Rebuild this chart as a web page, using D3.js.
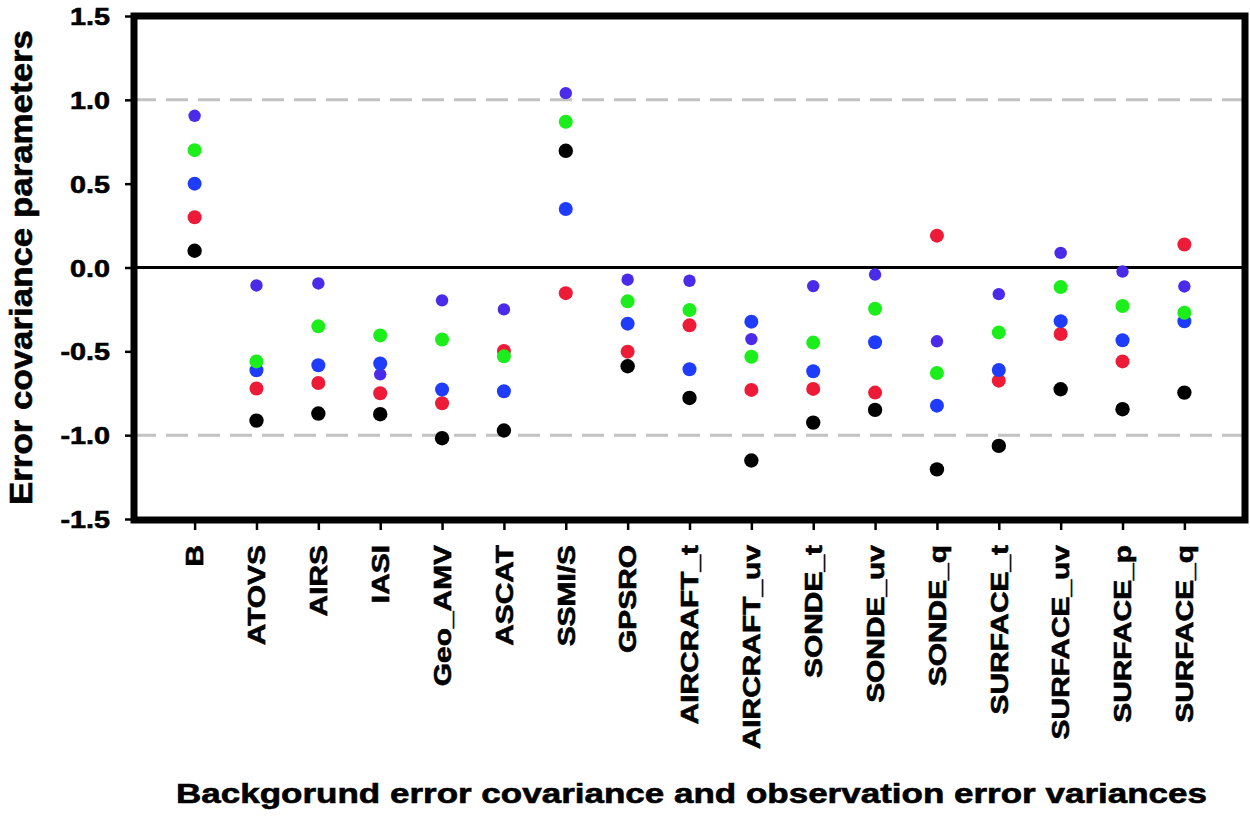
<!DOCTYPE html>
<html>
<head>
<meta charset="utf-8">
<script src="https://cdn.jsdelivr.net/npm/d3@7"></script>
<style>
  html, body { margin: 0; padding: 0; background: #fff; }
  svg { display: block; }
  text { font-family: "Liberation Sans", Arial, Helvetica, sans-serif; font-weight: bold; fill: #000; stroke: #000; stroke-width: 0.6px; }
</style>
</head>
<body>
<svg id="chart" width="1250" height="816"></svg>
<script>
// ---------- data ----------
const categories = ["B","ATOVS","AIRS","IASI","Geo_AMV","ASCAT","SSMI/S","GPSRO","AIRCRAFT_t","AIRCRAFT_uv","SONDE_t","SONDE_uv","SONDE_q","SURFACE_t","SURFACE_uv","SURFACE_p","SURFACE_q"];

const seriesPurple = [0.905, -0.107, -0.095, -0.637, -0.196, -0.25, 1.04, -0.073, -0.079, -0.427, -0.111, -0.042, -0.44, -0.159, 0.087, -0.024, -0.113];
const seriesBlack  = [0.10, -0.913, -0.871, -0.875, -1.018, -0.972, 0.696, -0.589, -0.778, -1.151, -0.925, -0.849, -1.204, -1.064, -0.726, -0.845, -0.746];
const seriesRed    = [0.30, -0.722, -0.689, -0.75, -0.81, -0.498, -0.153, -0.502, -0.345, -0.73, -0.724, -0.746, 0.19, -0.675, -0.397, -0.56, 0.137];
const seriesBlue   = [0.50, -0.613, -0.583, -0.573, -0.728, -0.738, 0.349, -0.335, -0.607, -0.323, -0.619, -0.446, -0.824, -0.611, -0.32, -0.434, -0.321];
const seriesGreen  = [0.70, -0.56, -0.351, -0.405, -0.429, -0.53, 0.869, -0.202, -0.254, -0.532, -0.448, -0.246, -0.629, -0.387, -0.117, -0.23, -0.27];

const yTicks = [-1.5, -1.0, -0.5, 0.0, 0.5, 1.0, 1.5];
const yTickLabels = ["-1.5", "-1.0", "-0.5", "0.0", "0.5", "1.0", "1.5"];
const refLines = [-1.0, 1.0];

const yTitle = "Error covariance parameters";
const xTitle = "Backgorund error covariance and observation error variances";

// ---------- layout ----------
const svg = d3.select("#chart");
const pLeft = 134, pRight = 1245, pTop = 16, pBottom = 520;

const x = d3.scalePoint().domain(categories).range([pLeft, pRight]).padding(0.98);
const y = d3.scaleLinear().domain([-1.5, 1.5]).range([519, 16]);

// reference dashed lines
svg.append("g").selectAll("line").data(refLines).join("line")
  .attr("x1", pLeft).attr("x2", pRight)
  .attr("y1", d => y(d)).attr("y2", d => y(d))
  .attr("stroke", "#c2c2c2").attr("stroke-width", 3)
  .attr("stroke-dasharray", "22,10");

// zero line
svg.append("line")
  .attr("x1", pLeft).attr("x2", pRight)
  .attr("y1", y(0)).attr("y2", y(0))
  .attr("stroke", "#000").attr("stroke-width", 3);

// points
const series = [
  {vals: seriesPurple, color: "#4b2bea", r: 6.2},
  {vals: seriesBlack,  color: "#000000", r: 7.2},
  {vals: seriesRed,    color: "#ee1b38", r: 7},
  {vals: seriesBlue,   color: "#1f3cfa", r: 7},
  {vals: seriesGreen,  color: "#1bee1b", r: 7}
];
series.forEach(s => {
  svg.append("g").selectAll("circle").data(categories).join("circle")
    .attr("cx", d => x(d))
    .attr("cy", (d, i) => y(s.vals[i]))
    .attr("r", s.r)
    .attr("fill", s.color);
});

// y axis
const yAxis = svg.append("g").attr("transform", `translate(${pLeft},0)`)
  .call(d3.axisLeft(y).tickValues(yTicks).tickFormat((d, i) => yTickLabels[i]).tickSize(9).tickPadding(14));
yAxis.select(".domain").remove();
yAxis.selectAll(".tick line").attr("stroke", "#000").attr("stroke-width", 2.5);
yAxis.selectAll(".tick text")
  .attr("font-size", 24).attr("font-family", null).attr("dy", "0.36em").attr("x", -24);

// x axis
const xAxis = svg.append("g").attr("transform", `translate(0,${pBottom})`)
  .call(d3.axisBottom(x).tickSize(10).tickPadding(0));
xAxis.select(".domain").remove();
xAxis.selectAll(".tick line").attr("stroke", "#000").attr("stroke-width", 2.5);
xAxis.selectAll(".tick text")
  .attr("font-size", 23).attr("font-family", null)
  .attr("text-anchor", "end")
  .attr("transform", "rotate(-90)")
  .attr("x", -25).attr("y", 0).attr("dy", "0.36em");

// frame
svg.append("rect")
  .attr("x", pLeft).attr("y", pTop)
  .attr("width", pRight - pLeft).attr("height", pBottom - pTop)
  .attr("fill", "none").attr("stroke", "#000").attr("stroke-width", 7);

// titles
svg.append("text").attr("class", "ytitle")
  .attr("transform", "translate(32,267.5) rotate(-90)")
  .attr("text-anchor", "middle")
  .attr("font-size", 32)
  .text(yTitle);

svg.append("text").attr("class", "xtitle")
  .attr("x", 176).attr("y", 803)
  .attr("font-size", 28)
  .text(xTitle);

// stretch text along baseline to match the reference's wide lettering
function stretch(sel, factor) {
  sel.each(function() {
    const L = this.getComputedTextLength();
    d3.select(this).attr("textLength", L * factor).attr("lengthAdjust", "spacingAndGlyphs");
  });
}
stretch(yAxis.selectAll(".tick text"), 1.2);
stretch(xAxis.selectAll(".tick text"), 1.3);
svg.select(".ytitle").attr("textLength", 475).attr("lengthAdjust", "spacingAndGlyphs");
svg.select(".xtitle").attr("textLength", 1031).attr("lengthAdjust", "spacingAndGlyphs");
</script>
</body>
</html>
